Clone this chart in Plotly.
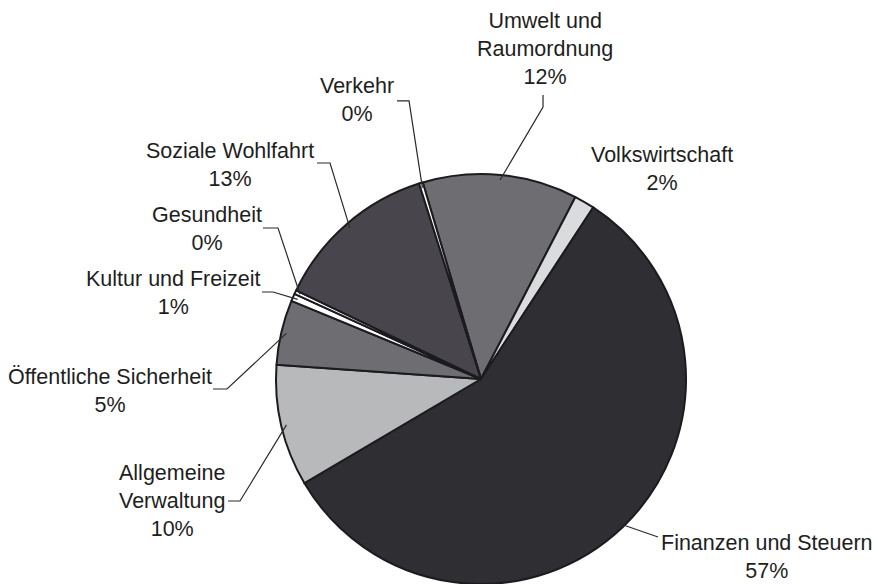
import numpy as np
import plotly.graph_objects as go

# Haushalt nach Aufgabenbereich (Anteile in %)
labels = ['Umwelt und Raumordnung', 'Volkswirtschaft', 'Finanzen und Steuern',
          'Allgemeine Verwaltung', 'Öffentliche Sicherheit', 'Kultur und Freizeit',
          'Gesundheit', 'Soziale Wohlfahrt', 'Verkehr']
display = ['Umwelt und<br>Raumordnung', 'Volkswirtschaft', 'Finanzen und Steuern',
           'Allgemeine<br>Verwaltung', 'Öffentliche Sicherheit', 'Kultur und Freizeit',
           'Gesundheit', 'Soziale Wohlfahrt', 'Verkehr']
values = [12.2, 1.6, 57.3, 9.6, 5.1, 0.6, 0.3, 13.0, 0.3]
colors = ['#6e6d72', '#d9dbdc', '#2f2e33', '#b8b9bb', '#6e6d72',
          '#ffffff', '#ffffff', '#48464c', '#ffffff']

W, H = 874, 584
cx, cy, r = 481, 379, 205
rotation = -16.5

# label centre (px) and elbow of the leader line (px), None = no line
label_pos = {
    'Umwelt und Raumordnung': (545, 49, [(543, 95), (543, 107)]),
    'Volkswirtschaft': (662, 169, None),
    'Finanzen und Steuern': (767, 557, [(658, 537)]),
    'Allgemeine Verwaltung': (172, 501, [(228, 501), (240, 501)]),
    'Öffentliche Sicherheit': (110, 391, [(213, 389), (227, 389)]),
    'Kultur und Freizeit': (173, 293, [(262, 292), (273, 292)]),
    'Gesundheit': (207, 229, [(263, 228), (278, 228)]),
    'Soziale Wohlfahrt': (230, 165, [(317, 163), (330, 163)]),
    'Verkehr': (357, 100, [(397, 101), (409, 101)]),
}

fig = go.Figure(go.Pie(
    labels=labels, values=values, sort=False, direction='clockwise',
    rotation=rotation, textinfo='none', hoverinfo='label+percent',
    marker=dict(colors=colors, line=dict(color='#1c1b1f', width=2)),
    domain=dict(x=[(cx - r) / W, (cx + r) / W], y=[1 - (cy + r) / H, 1 - (cy - r) / H]),
    showlegend=False,
))

def px(x, y):
    return x / W, 1 - y / H

total = sum(values)
start = rotation
shapes = []
annotations = []
for lab, disp, v in zip(labels, display, values):
    mid = start + v / total * 360 / 2
    start += v / total * 360
    tx, ty, elbow = label_pos[lab]
    pct = round(v / total * 100)
    annotations.append(dict(
        x=tx / W, y=1 - ty / H, xref='paper', yref='paper',
        text=f'{disp}<br>{pct}%', showarrow=False, align='center',
        xanchor='center', yanchor='middle', borderpad=0,
        font=dict(family='Liberation Sans, Arial, sans-serif', size=21.5, color='#1e1e1e')))
    if elbow:
        a = np.radians(mid)
        ex, ey = cx + 0.975 * r * np.sin(a), cy - 0.975 * r * np.cos(a)
        pts = [px(*p) for p in elbow] + [px(ex, ey)]
        path = 'M ' + ' L '.join(f'{x:.4f},{y:.4f}' for x, y in pts)
        shapes.append(dict(type='path', path=path, xref='paper', yref='paper',
                           line=dict(color='#2a2a2a', width=1.2)))

fig.update_layout(width=W, height=H, margin=dict(l=0, r=0, t=0, b=0),
                  paper_bgcolor='white', plot_bgcolor='white',
                  shapes=shapes, annotations=annotations)
fig.write_html('out.html', config={'displayModeBar': False},
               post_script="document.body.style.margin='0px';")
